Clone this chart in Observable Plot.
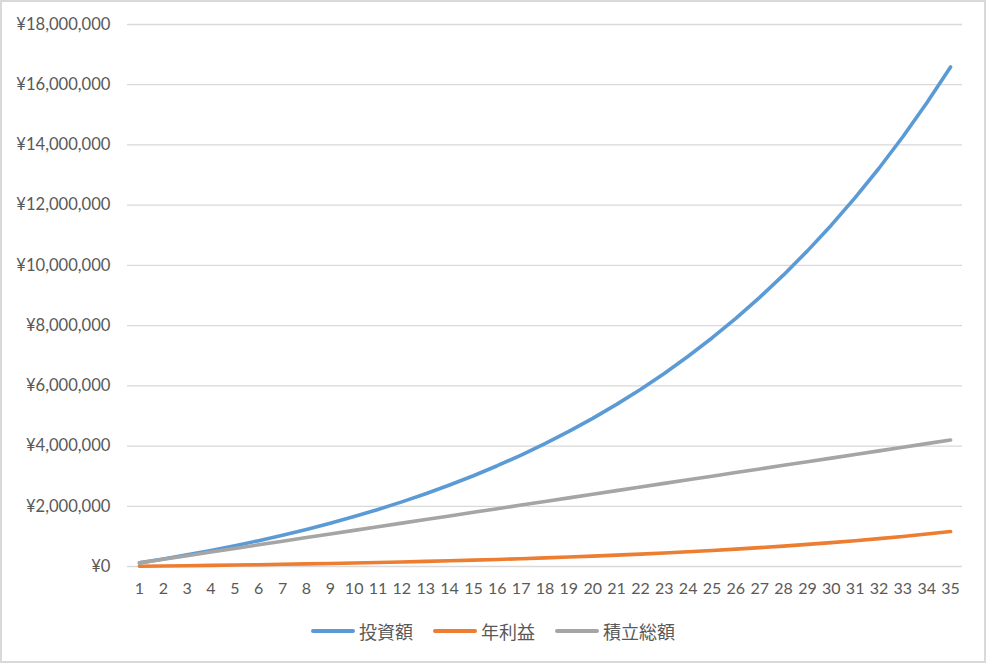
<!DOCTYPE html>
<html>
<head>
<meta charset="utf-8">
<script src="https://cdn.jsdelivr.net/npm/d3@7"></script>
<script src="https://cdn.jsdelivr.net/npm/@observablehq/plot@0.6"></script>
<style>
  html, body { margin: 0; padding: 0; background: #fff; }
  #wrap { position: relative; width: 986px; height: 663px; background: #fff; overflow: hidden; }
  #frame { position: absolute; left: 0; top: 0; width: 986px; height: 663px; box-sizing: border-box; border: 2px solid #d9d9d9; pointer-events: none; }
  #chart { position: absolute; left: 0; top: 0; }
  #legend { position: absolute; left: 0; top: 618px; width: 986px; display: flex; justify-content: center; align-items: center;
            font-family: "Noto Sans CJK JP", sans-serif; font-size: 18px; color: #595959; }
  .item { display: flex; align-items: center; margin: 0 10px; }
  .swatch { width: 44px; height: 4px; border-radius: 2px; margin-right: 4px; }
</style>
</head>
<body>
<div id="wrap">
  <div id="chart"></div>
  <div id="legend"></div>
  <div id="frame"></div>
</div>
<script>
const years = d3.range(1, 36);
const seriesNames = ["投資額", "年利益", "積立総額"];
const seriesColors = ["#5b9bd5", "#ed7d31", "#a5a5a5"];
const investment = [120000, 248000, 386000, 533000, 690000, 858000, 1038000, 1231000, 1437000, 1658000,
  1894000, 2147000, 2417000, 2706000, 3015000, 3347000, 3701000, 4080000, 4485000, 4919000,
  5384000, 5881000, 6412000, 6981000, 7590000, 8241000, 8938000, 9684000, 10482000, 11335000,
  12249000, 13226000, 14272000, 15391000, 16589000];
const profit = [8400, 17400, 27000, 37300, 48300, 60100, 72700, 86200, 100600, 116100,
  132600, 150300, 169200, 189400, 211100, 234300, 259100, 285600, 314000, 344400,
  376900, 411600, 448900, 488700, 531300, 576900, 625700, 677900, 733700, 793500,
  857400, 925800, 999000, 1077400, 1161300];
const accumulated = [120000, 240000, 360000, 480000, 600000, 720000, 840000, 960000, 1080000, 1200000,
  1320000, 1440000, 1560000, 1680000, 1800000, 1920000, 2040000, 2160000, 2280000, 2400000,
  2520000, 2640000, 2760000, 2880000, 3000000, 3120000, 3240000, 3360000, 3480000, 3600000,
  3720000, 3840000, 3960000, 4080000, 4200000];
const yTicks = d3.range(0, 18000001, 2000000);

const valuesBySeries = [investment, profit, accumulated];
const data = [];
seriesNames.forEach((s, i) => years.forEach((yr, j) => data.push({series: s, year: yr, value: valuesBySeries[i][j]})));

const fmt = d => "¥" + d3.format(",")(d);

const chart = Plot.plot({
  width: 986,
  height: 600,
  marginTop: 24,
  marginBottom: 34,
  marginLeft: 127,
  marginRight: 24,
  style: { fontFamily: "Lato, 'Open Sans', sans-serif", fontSize: "16px", color: "#595959", background: "transparent" },
  x: { domain: [0.5, 35.5], axis: null },
  y: { domain: [0, 18000000], axis: null },
  color: { domain: seriesNames, range: seriesColors },
  marks: [
    Plot.ruleY(yTicks, { stroke: "#d9d9d9", strokeWidth: 1.3 }),
    Plot.axisY(yTicks, { tickSize: 0, tickPadding: 17, tickFormat: fmt, fill: "#595959", fontSize: 16.6, label: null }),
    Plot.axisX(years, { tickSize: 0, tickPadding: 16, tickFormat: d => String(d), fill: "#595959", fontSize: 16, label: null }),
    Plot.line(data, { x: "year", y: "value", z: "series", stroke: "series", strokeWidth: 3.6, strokeLinecap: "round", strokeLinejoin: "round" })
  ]
});
document.getElementById("chart").appendChild(chart);

const legend = document.getElementById("legend");
seriesNames.forEach((s, i) => {
  const item = document.createElement("div");
  item.className = "item";
  const sw = document.createElement("div");
  sw.className = "swatch";
  sw.style.background = seriesColors[i];
  const label = document.createElement("span");
  label.textContent = s;
  item.appendChild(sw);
  item.appendChild(label);
  legend.appendChild(item);
});
</script>
</body>
</html>
